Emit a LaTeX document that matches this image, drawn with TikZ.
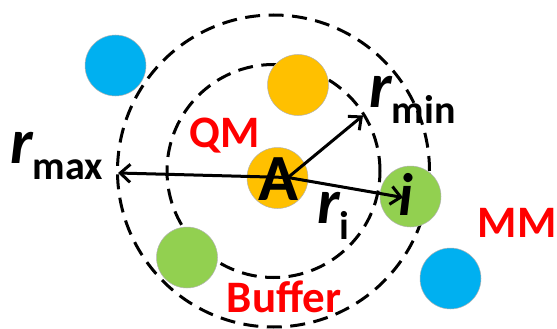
\documentclass[tikz,border=0pt]{standalone}
\usepackage{fontspec}
\setmainfont{Carlito}
\usetikzlibrary{arrows.meta}
\definecolor{mmblue}{HTML}{00B0F0}
\definecolor{qmorange}{HTML}{FFC000}
\definecolor{bufgreen}{HTML}{92D050}
\newcommand\mysub[1]{\raisebox{-16pt}{\fontsize{40}{40}\selectfont\upshape #1}}
\begin{document}
\begin{tikzpicture}[x=1pt,y=-1pt,
  ring/.style={draw=black, line width=3pt, dash pattern=on 15pt off 8.5pt},
  atom/.style={circle, minimum size=61pt, inner sep=0pt, draw=black!30, line width=0.5pt},
  vec/.style={draw=black, line width=3pt, -{Straight Barb[length=10pt,width=18pt]}},
  rlab/.style={inner sep=0pt, font=\fontsize{64}{64}\selectfont\bfseries\itshape},
  region/.style={inner sep=0pt, anchor=base, text=red, font=\fontsize{45}{45}\selectfont\bfseries}
]
\useasboundingbox (0,0) rectangle (557,329);
\coordinate (ctr) at (273.5,171);
\draw[ring] (ctr) circle[radius=156pt];
\draw[ring] (ctr) circle[radius=106.5pt];

\node[atom, fill=mmblue] (b1) at (115.5,65.5) {};
\node[atom, fill=mmblue] (b2) at (450.5,278.5) {};
\node[atom, fill=qmorange] (y1) at (298,85) {};
\node[atom, fill=bufgreen] (g1) at (187,257.5) {};
\node[atom, fill=bufgreen] (gi) at (410.5,196.5) {};
\node[atom, fill=qmorange] (a) at (277.5,178) {};

\coordinate (o) at (288,177.5);
\coordinate (tmax) at (118,173);
\coordinate (tmin) at (363,115.5);
\coordinate (ti) at (403,197.5);
\draw[vec] (o) -- (tmax);
\draw[vec] (o) -- (tmin);
\draw[vec] (o) -- (ti);

\node[inner sep=0pt, anchor=base, font=\fontsize{66}{66}\selectfont\bfseries] (alab) at (278.5,200) {A};
\node[inner sep=0pt, anchor=base, font=\fontsize{60}{60}\selectfont\bfseries\itshape] (ilab) at (406,215) {i};

\node[rlab, anchor=base west] (rmax) at (10,163) {r\mysub{max}};
\node[rlab, anchor=base west] (rmin) at (369,107) {r\mysub{min}};
\node[rlab, anchor=base west] (ri) at (317,223) {r\mysub{i}};

\node[region] (qm) at (225,147) {QM};
\node[region] (mm) at (517,237) {MM};
\node[region] (buf) at (284,312) {Buffer};
\end{tikzpicture}
\end{document}
